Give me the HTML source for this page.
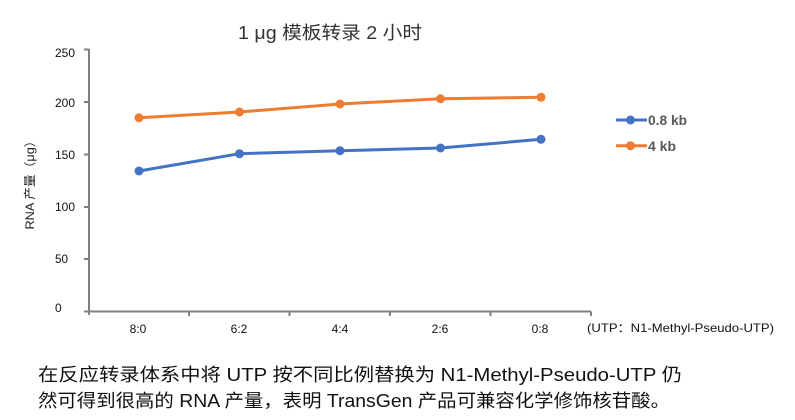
<!DOCTYPE html>
<html>
<head>
<meta charset="utf-8">
<style>
html,body{margin:0;padding:0;background:#fff;}
svg{display:block;}
text{font-family:"Liberation Sans","Noto Sans CJK SC",sans-serif;}
</style>
</head>
<body>
<svg width="795" height="420" viewBox="0 0 795 420" xmlns="http://www.w3.org/2000/svg">
  <rect width="795" height="420" fill="#fff"/>
  <!-- Title -->
  <text x="238" y="39" font-size="18" fill="#333" textLength="184" lengthAdjust="spacingAndGlyphs">1 μg 模板转录 2 小时</text>

  <!-- Y axis title -->
  <text transform="translate(34,182) rotate(-90)" text-anchor="middle" font-size="12" fill="#222" textLength="95" lengthAdjust="spacingAndGlyphs">RNA 产量（μg）</text>

  <!-- Axes -->
  <g stroke="#808080" stroke-width="2" fill="none">
    <line x1="89" y1="49" x2="89" y2="315"/>
    <line x1="84" y1="311.5" x2="591" y2="311.5"/>
    <line x1="84" y1="49.5" x2="89" y2="49.5"/>
    <line x1="84" y1="102" x2="89" y2="102"/>
    <line x1="84" y1="154.5" x2="89" y2="154.5"/>
    <line x1="84" y1="207" x2="89" y2="207"/>
    <line x1="84" y1="259" x2="89" y2="259"/>
    <line x1="189" y1="311.5" x2="189" y2="316"/>
    <line x1="289.5" y1="311.5" x2="289.5" y2="316"/>
    <line x1="390" y1="311.5" x2="390" y2="316"/>
    <line x1="490.5" y1="311.5" x2="490.5" y2="316"/>
    <line x1="591" y1="311.5" x2="591" y2="316"/>
  </g>

  <!-- Y tick labels -->
  <g font-size="12" fill="#111">
    <text x="55" y="57" textLength="20" lengthAdjust="spacingAndGlyphs">250</text>
    <text x="55" y="107" textLength="20" lengthAdjust="spacingAndGlyphs">200</text>
    <text x="55" y="159" textLength="20" lengthAdjust="spacingAndGlyphs">150</text>
    <text x="55" y="211" textLength="20" lengthAdjust="spacingAndGlyphs">100</text>
    <text x="55" y="263" textLength="13" lengthAdjust="spacingAndGlyphs">50</text>
    <text x="55" y="312">0</text>
  </g>

  <!-- X tick labels -->
  <g font-size="12" fill="#111" text-anchor="middle">
    <text x="138" y="333">8:0</text>
    <text x="239" y="333">6:2</text>
    <text x="340" y="333">4:4</text>
    <text x="440" y="333">2:6</text>
    <text x="540" y="333">0:8</text>
  </g>
  <text x="587" y="332" font-size="12" fill="#111" textLength="187" lengthAdjust="spacingAndGlyphs">(UTP：N1-Methyl-Pseudo-UTP)</text>

  <!-- Orange series -->
  <polyline points="139,117.7 239.5,112 340,104 440.5,98.7 541,97.3" fill="none" stroke="#ED7D31" stroke-width="3" stroke-linejoin="round"/>
  <g fill="#ED7D31">
    <circle cx="139" cy="117.7" r="4.5"/>
    <circle cx="239.5" cy="112" r="4.5"/>
    <circle cx="340" cy="104" r="4.5"/>
    <circle cx="440.5" cy="98.7" r="4.5"/>
    <circle cx="541" cy="97.3" r="4.5"/>
  </g>

  <!-- Blue series -->
  <polyline points="139,171 239.5,153.7 340,150.7 440.5,148 541,139.3" fill="none" stroke="#4472C4" stroke-width="3" stroke-linejoin="round"/>
  <g fill="#4472C4">
    <circle cx="139" cy="171" r="4.5"/>
    <circle cx="239.5" cy="153.7" r="4.5"/>
    <circle cx="340" cy="150.7" r="4.5"/>
    <circle cx="440.5" cy="148" r="4.5"/>
    <circle cx="541" cy="139.3" r="4.5"/>
  </g>

  <!-- Legend -->
  <line x1="616" y1="120" x2="647" y2="120" stroke="#4472C4" stroke-width="3"/>
  <circle cx="630.5" cy="120" r="4.5" fill="#4472C4"/>
  <text x="648" y="125" font-size="14" font-weight="bold" fill="#595959" textLength="39" lengthAdjust="spacingAndGlyphs">0.8 kb</text>
  <line x1="616" y1="145.7" x2="647" y2="145.7" stroke="#ED7D31" stroke-width="3"/>
  <circle cx="630.5" cy="145.7" r="4.5" fill="#ED7D31"/>
  <text x="648" y="151" font-size="14" font-weight="bold" fill="#595959" textLength="28" lengthAdjust="spacingAndGlyphs">4 kb</text>

  <!-- Bottom caption -->
  <text x="38" y="381" font-size="18" fill="#111" textLength="644" lengthAdjust="spacingAndGlyphs">在反应转录体系中将 UTP 按不同比例替换为 N1-Methyl-Pseudo-UTP 仍</text>
  <text x="38" y="407" font-size="18" fill="#111" textLength="632" lengthAdjust="spacingAndGlyphs">然可得到很高的 RNA 产量，表明 TransGen 产品可兼容化学修饰核苷酸。</text>
</svg>
</body>
</html>
